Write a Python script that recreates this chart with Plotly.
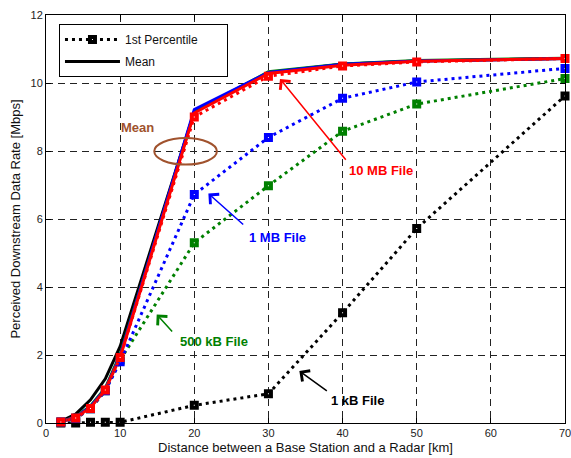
import plotly.graph_objects as go

distance_km = [2, 4, 6, 8, 10, 20, 30, 40, 50, 70]

# Mean rates [Mbps]
mean_1kB = [0.05, 0.26, 0.68, 1.30, 2.25, 9.15, 10.30, 10.55, 10.65, 10.72]
mean_500kB = [0.04, 0.18, 0.50, 1.03, 2.02, 9.15, 10.33, 10.56, 10.66, 10.73]
mean_1MB = [0.04, 0.17, 0.48, 1.00, 1.97, 9.22, 10.31, 10.55, 10.65, 10.72]
mean_10MB = [0.04, 0.16, 0.45, 0.98, 1.93, 9.12, 10.28, 10.52, 10.64, 10.72]

# 1st percentile rates [Mbps]
p1_1kB = [0.00, 0.00, 0.02, 0.02, 0.02, 0.52, 0.86, 3.24, 5.72, 9.62]
p1_500kB = [0.03, 0.14, 0.42, 0.95, 1.85, 5.30, 6.98, 8.58, 9.38, 10.13]
p1_1MB = [0.03, 0.14, 0.42, 0.95, 1.80, 6.72, 8.40, 9.55, 10.03, 10.43]
p1_10MB = [0.03, 0.15, 0.43, 0.97, 1.93, 9.00, 10.20, 10.50, 10.62, 10.72]

series_names = ["1 kB File", "500 kB File", "1 MB File", "10 MB File"]
series_colors = ["#000000", "#008000", "#0000FF", "#FF0000"]

legend_labels = ["1st Percentile", "Mean"]

FONT = "Arial, 'Liberation Sans', sans-serif"
PAD = "\u00a0" * 7

fig = go.Figure()

for name, ys, col in zip(series_names, [mean_1kB, mean_500kB, mean_1MB, mean_10MB], series_colors):
    fig.add_trace(go.Scatter(x=distance_km, y=ys, mode="lines", name=name + " mean",
                             line=dict(color=col, width=3), showlegend=False))

for name, ys, col in zip(series_names, [p1_1kB, p1_500kB, p1_1MB, p1_10MB], series_colors):
    fig.add_trace(go.Scatter(x=distance_km, y=ys, mode="lines+markers", name=name + " 1st",
                             line=dict(color=col, width=3, dash="3px,4px"),
                             marker=dict(symbol="square", size=5, color="white",
                                         line=dict(color=col, width=4)),
                             cliponaxis=False, showlegend=False))

# legend entries
fig.add_trace(go.Scatter(x=[None], y=[None], mode="lines+markers", name=legend_labels[0] + PAD,
                         legendgroup="a",
                         line=dict(color="black", width=3, dash="3px,4px"),
                         marker=dict(symbol="square", size=5, color="white",
                                     line=dict(color="black", width=4))))
fig.add_trace(go.Scatter(x=[None], y=[None], mode="lines", name=legend_labels[1],
                         legendgroup="b",
                         line=dict(color="black", width=3)))

# Ellipse around mean curves
fig.add_shape(type="circle", xref="x", yref="y", x0=14.6, x1=23.05, y0=7.6, y1=8.38,
              line=dict(color="#A0522D", width=2))

texts = [
    ("Mean", 12.4, 8.7, "#A0522D"),
    ("10 MB File", 45.2, 7.43, "#FF0000"),
    ("1 MB File", 31.2, 5.47, "#0000FF"),
    ("500 kB File", 22.6, 2.4, "#008000"),
    ("1 kB File", 41.95, 0.67, "#000000"),
]
for t, x, y, c in texts:
    fig.add_annotation(x=x, y=y, text="<b>" + t + "</b>", showarrow=False,
                       font=dict(family=FONT, size=13, color=c))

arrows = [
    (40.6, 7.70, 31.56, 10.12, "#FF0000"),
    (26.8, 5.80, 21.9, 6.75, "#0000FF"),
    (17.2, 2.65, 14.93, 3.19, "#008000"),
    (38.08, 0.91, 34.17, 1.53, "#000000"),
]
for x0, y0, x1, y1, c in arrows:
    fig.add_annotation(x=x1, y=y1, ax=x0, ay=y0, xref="x", yref="y", axref="x", ayref="y",
                       text="", showarrow=True, arrowhead=4, arrowsize=1.7, arrowwidth=1.5,
                       arrowcolor=c)

axis_common = dict(showline=True, linecolor="black", linewidth=1, mirror="ticks",
                   ticks="inside", ticklen=5, tickcolor="black", automargin=False,
                   showgrid=True, gridcolor="#222222", gridwidth=1, griddash="7px,5px",
                   zeroline=False, tickfont=dict(family=FONT, size=11, color="#222222"))

fig.update_xaxes(range=[0, 70], tickvals=[0, 10, 20, 30, 40, 50, 60, 70],
                 ticklabeloverflow="allow",
                 title=dict(text="Distance between a Base Station and a Radar [km]",
                            font=dict(family=FONT, size=13, color="#111111"), standoff=4),
                 **axis_common)
fig.update_yaxes(range=[0, 12], tickvals=[0, 2, 4, 6, 8, 10, 12],
                 ticklabeloverflow="allow",
                 title=dict(text="Perceived Downstream Data Rate [Mbps]",
                            font=dict(family=FONT, size=13, color="#111111"), standoff=6),
                 **axis_common)

fig.update_layout(
    width=571, height=458,
    margin=dict(l=46, r=6, t=15, b=35),
    paper_bgcolor="white", plot_bgcolor="white",
    font=dict(family=FONT),
    legend=dict(x=0.025, y=0.978, xanchor="left", yanchor="top",
                bgcolor="white", bordercolor="black", borderwidth=1,
                font=dict(family=FONT, size=12, color="#111111"),
                itemwidth=55, traceorder="grouped", tracegroupgap=3),
)

fig.write_html("out.html")
